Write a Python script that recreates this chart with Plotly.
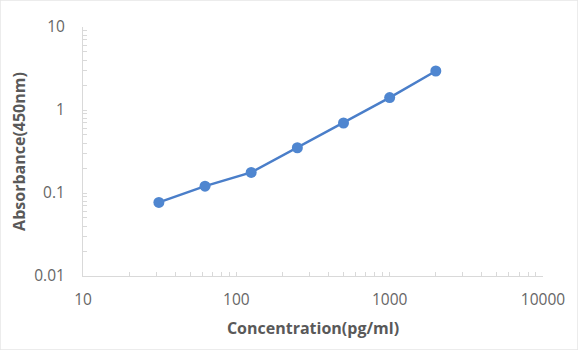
import plotly.graph_objects as go

concentration = [31.25, 62.5, 125, 250, 500, 1000, 2000]
absorbance = [0.077, 0.121, 0.177, 0.351, 0.697, 1.41, 2.95]

x_ticks = [10, 100, 1000, 10000]
x_labels = ["10", "100", "1000", "10000"]
y_ticks = [0.01, 0.1, 1, 10]
y_labels = ["0.01", "0.1", "1", "10"]

axis_color = "#D9D9D9"
text_color = "#595959"
tick_color = "#666666"
font_family = "Open Sans"


def minor_vals(decades):
    return [m * d for d in decades for m in range(2, 10)]


fig = go.Figure()
fig.add_trace(go.Scatter(
    x=concentration, y=absorbance, mode="lines+markers",
    line=dict(color="#4A7EC9", width=2.5),
    marker=dict(color="#4F86D0", size=11),
    showlegend=False,
))

fig.update_layout(
    width=578, height=350,
    margin=dict(l=83, r=35, t=27, b=74),
    paper_bgcolor="white", plot_bgcolor="white",
    font=dict(family=font_family, color=text_color),
)
fig.add_shape(type="rect", xref="paper", yref="paper",
              x0=-83/460, x1=1+35/460, y0=-74/249, y1=1+27/249,
              line=dict(color="#E6E6E6", width=1.5), layer="below")

fig.update_xaxes(
    type="log", range=[1, 4], tickvals=x_ticks, ticktext=x_labels,
    showgrid=False, zeroline=False,
    showline=True, linecolor=axis_color, linewidth=1,
    ticks="inside", ticklen=4, tickcolor=axis_color,
    minor=dict(tickvals=minor_vals([10, 100, 1000]), ticks="inside", ticklen=4,
               tickcolor=axis_color, showgrid=False),
    tickfont=dict(size=15.5, color=tick_color),
    ticklabelstandoff=9,
    title=dict(text="<b>Concentration(pg/ml)</b>", font=dict(size=16, color=text_color), standoff=14),
)
fig.update_yaxes(
    type="log", range=[-2, 1], tickvals=y_ticks, ticktext=y_labels,
    showgrid=False, zeroline=False,
    showline=True, linecolor=axis_color, linewidth=1,
    ticks="inside", ticklen=4, tickcolor=axis_color,
    minor=dict(tickvals=minor_vals([0.01, 0.1, 1]), ticks="inside", ticklen=4,
               tickcolor=axis_color, showgrid=False),
    tickfont=dict(size=15.5, color=tick_color),
    ticklabelstandoff=14,
    title=dict(text="<b>Absorbance(450nm)</b>", font=dict(size=16, color=text_color), standoff=4),
)

fig.write_html("out.html")
